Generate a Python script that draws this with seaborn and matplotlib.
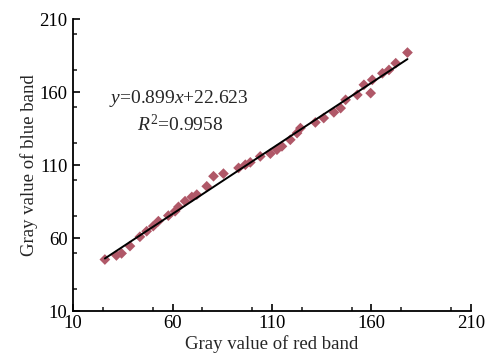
import matplotlib
matplotlib.use("Agg")
import matplotlib.pyplot as plt
import seaborn as sns
import numpy as np
import pandas as pd
from matplotlib.ticker import MultipleLocator

red_band = [26.0, 31.8, 34.4, 38.6, 43.6, 47.0, 50.3, 52.9, 57.9, 61.3, 63.0, 66.3,
            69.7, 72.2, 77.2, 80.6, 85.6, 93.2, 96.6, 99.1, 104.1, 109.2, 112.5, 115.0,
            119.2, 122.6, 124.3, 131.8, 136.0, 141.1, 144.5, 147.0, 152.9, 156.2, 159.6,
            160.4, 165.5, 168.8, 172.2, 178.1]
blue_band = [45.3, 48.1, 49.5, 54.5, 60.9, 64.7, 68.2, 71.6, 75.4, 78.4, 81.4, 85.3,
             88.2, 89.8, 95.5, 102.4, 104.2, 108.1, 110.3, 111.9, 116.0, 117.9, 120.6, 122.9,
             127.4, 132.0, 135.4, 139.3, 142.3, 146.2, 149.1, 154.8, 158.2, 165.1, 159.4,
             168.5, 173.0, 175.3, 179.9, 187.2]
slope = 0.899
intercept = 22.623
r2 = 0.9958
ticks = [10, 60, 110, 160, 210]

df = pd.DataFrame({"red": red_band, "blue": blue_band})
fit_x = np.array([min(red_band), max(red_band)])
fit_df = pd.DataFrame({"red": fit_x, "blue": slope * fit_x + intercept})

sns.set_theme(style="ticks")
plt.rcParams["font.family"] = ["Liberation Serif", "DejaVu Serif"]
plt.rcParams["mathtext.fontset"] = "custom"
plt.rcParams["mathtext.rm"] = "Liberation Serif"
plt.rcParams["mathtext.it"] = "Liberation Serif:italic"

fig = plt.figure(figsize=(4.87, 3.61), dpi=100)
ax = fig.add_axes([0.150, 0.1385, 0.817, 0.808])

sns.scatterplot(data=df, x="red", y="blue", marker="D", s=30, color="#b05868",
                edgecolor="none", ax=ax, zorder=2)
sns.lineplot(data=fit_df, x="red", y="blue", color="black", linewidth=1.4, ax=ax, zorder=3)

ax.set_xlim(10, 210)
ax.set_ylim(10, 210)
ax.set_xticks(ticks)
ax.set_yticks(ticks)
ax.xaxis.set_minor_locator(MultipleLocator(25))
ax.yaxis.set_minor_locator(MultipleLocator(25))
ax.tick_params(which="major", direction="in", length=5, width=1.2, labelsize=13.5, colors="black")
ax.tick_params(axis="x", which="major", pad=3)
ax.tick_params(axis="y", which="major", pad=4)
ax.tick_params(which="minor", direction="in", length=3, width=1.2)
for s in ["top", "right"]:
    ax.spines[s].set_visible(False)
for s in ["left", "bottom"]:
    ax.spines[s].set_linewidth(1.3)
    ax.spines[s].set_color("black")

ax.set_xlabel("Gray value of red band", fontsize=13.5, labelpad=2)
ax.set_ylabel("Gray value of blue band", fontsize=13.5, labelpad=1)

ax.text(0.368, 0.726, r"$y$=%.3f$x$+%.3f" % (slope, intercept), transform=fig.transFigure,
        ha="center", va="center", fontsize=14)
ax.text(0.370, 0.654, r"$R^2$=%.4f" % r2, transform=fig.transFigure,
        ha="center", va="center", fontsize=14)

fig.savefig("out.png", dpi=100)
